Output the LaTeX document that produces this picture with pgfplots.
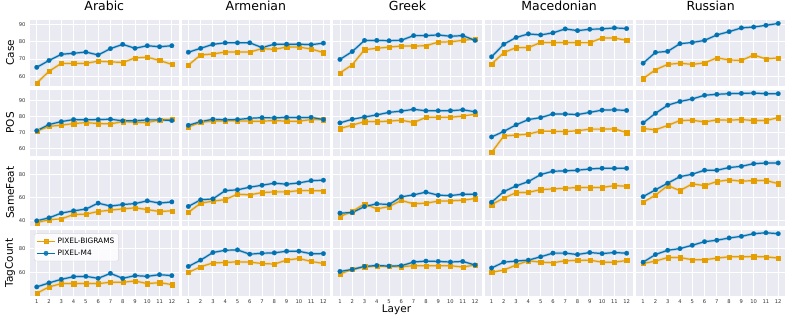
\documentclass[border=0pt]{standalone}
\usepackage{fontspec}
\setmainfont{DejaVu Sans}
\usepackage{pgfplots}
\usepackage{pgfplotstable}
\pgfplotsset{compat=1.18}
\usepgfplotslibrary{groupplots}
\definecolor{bgc}{HTML}{EAEAF2}
\definecolor{cO}{HTML}{E69F00}
\definecolor{cB}{HTML}{0072B2}

\pgfplotstableread{
L  ArB  ArM  HyB  HyM  GrB  GrM  MkB  MkM  RuB  RuM
1  56.0 65.2 66.5 74.0 61.9 69.8 67.1 71.3 58.6 67.6
2  62.9 69.2 72.4 76.3 66.7 74.4 73.8 78.7 63.8 73.9
3  67.5 72.8 73.0 78.6 75.5 80.9 76.7 82.6 66.9 74.5
4  67.5 73.4 74.1 79.5 76.3 80.9 76.7 84.7 67.6 79.0
5  67.5 74.1 74.1 79.5 77.0 80.7 79.7 84.1 66.9 79.7
6  68.8 72.4 74.1 79.5 77.6 81.0 79.6 85.3 67.8 80.9
7  68.4 76.1 76.1 76.7 77.6 83.7 79.7 87.6 70.7 84.1
8  68.0 78.6 75.7 78.7 77.8 83.7 79.6 86.6 69.5 86.0
9  70.7 76.3 77.0 78.7 79.9 84.1 79.6 87.4 69.2 88.2
10 71.1 77.8 77.0 78.7 80.1 83.3 82.3 87.6 72.4 88.7
11 69.2 77.2 75.9 78.4 80.9 83.7 82.3 88.2 70.1 89.7
12 66.9 77.8 73.8 79.3 81.8 80.9 80.9 87.8 70.7 90.8
}\casetab

\pgfplotstableread{
L  ArB  ArM  HyB  HyM  GrB  GrM  MkB  MkM  RuB  RuM
1  70.9 71.1 73.5 74.5 72.5 76.0 57.5 67.2 72.5 76.0
2  73.8 75.0 76.4 76.8 74.6 78.3 67.8 70.7 71.7 82.0
3  74.6 76.8 77.1 78.3 76.8 79.7 68.4 74.8 74.4 87.1
4  75.6 78.1 77.3 77.9 76.8 81.0 69.0 78.1 77.5 89.4
5  76.2 77.9 77.3 78.1 77.1 82.6 70.9 79.3 77.7 91.0
6  75.6 78.1 77.1 78.9 77.7 83.4 70.7 81.6 76.6 93.3
7  75.4 78.3 77.1 79.3 76.2 84.5 70.5 81.6 77.9 93.9
8  76.8 77.3 77.5 79.1 79.5 83.6 71.1 81.2 77.7 94.3
9  76.4 77.3 77.1 79.5 79.5 83.6 72.1 82.6 78.1 94.5
10 76.2 77.9 77.1 79.3 79.5 83.6 72.1 84.0 77.5 94.7
11 77.9 77.9 78.1 79.5 80.3 84.2 72.3 84.2 77.5 94.3
12 78.3 77.5 78.1 78.1 81.4 83.0 69.9 83.8 79.3 94.3
}\postab

\pgfplotstableread{
L  ArB  ArM  HyB  HyM  GrB  GrM  MkB  MkM  RuB  RuM
1  38.5 40.0 47.3 52.5 43.7 46.7 54.2 56.2 56.2 61.1
2  40.9 42.6 55.4 58.3 48.1 47.2 59.7 65.5 62.3 67.0
3  41.7 46.7 57.1 59.1 54.8 52.4 64.6 70.4 70.7 72.8
4  45.5 48.7 58.5 66.3 50.4 54.8 64.8 74.2 66.3 78.5
5  45.8 50.2 63.2 67.0 52.4 54.2 67.2 80.3 72.2 80.6
6  48.1 55.4 62.6 69.3 57.7 60.9 67.8 83.2 70.7 84.1
7  49.3 52.8 64.6 71.0 54.8 62.6 68.4 83.5 74.2 84.1
8  50.4 54.2 65.2 72.8 55.4 65.0 69.0 84.1 75.7 86.4
9  51.3 55.0 65.2 71.9 57.1 62.3 69.0 85.2 74.5 87.5
10 49.8 57.4 66.3 73.0 57.4 62.0 69.0 85.8 75.1 89.8
11 48.1 55.4 66.3 75.0 58.0 63.2 70.7 85.8 75.1 90.4
12 48.7 56.5 66.1 75.4 59.4 63.2 70.1 85.8 72.4 90.4
}\sftab

\pgfplotstableread{
L  ArB  ArM  HyB  HyM  GrB  GrM  MkB  MkM  RuB  RuM
1  42.5 47.8 60.0 65.0 58.7 60.8 60.0 63.7 67.5 68.6
2  47.8 51.2 64.7 70.3 62.5 62.5 62.0 68.6 69.5 75.0
3  50.6 54.2 68.0 76.7 64.8 65.0 66.2 69.5 72.5 78.6
4  50.6 56.4 68.3 78.6 65.3 65.8 69.8 70.3 72.5 80.0
5  50.6 56.7 68.9 78.9 65.0 65.3 68.6 73.1 70.6 82.8
6  50.6 55.0 68.6 75.3 64.8 65.6 68.1 76.2 70.6 85.8
7  51.7 59.2 67.5 76.1 65.6 68.7 69.8 76.2 72.0 87.0
8  51.7 55.0 67.0 76.4 65.6 69.5 70.0 75.0 73.1 88.9
9  52.8 57.3 70.3 77.8 65.6 69.2 70.3 76.7 73.1 90.3
10 50.6 56.7 71.7 77.8 65.6 68.7 68.6 75.8 73.3 92.5
11 51.4 58.1 69.2 75.6 64.5 69.2 68.6 76.7 73.1 93.3
12 49.8 57.3 67.5 75.8 66.2 66.2 70.0 76.1 72.0 92.5
}\tctab

\pgfplotsset{
  oS/.style={draw=cO, line width=1.2pt, mark=square*, mark size=2.1pt,
    mark options={fill=cO, draw=cO, line width=0.2pt}},
  bS/.style={draw=cB, line width=1.2pt, mark=*, mark size=2.3pt,
    mark options={fill=cB, draw=cB, line width=0.2pt}},
  halo/.style={forget plot, mark=none, line width=2.8pt, opacity=0.22},
  caserow/.style={ymin=54.6, ymax=92.8, ytick={60,70,80,90}},
  posrow/.style={ymin=55.6, ymax=96.6, ytick={60,70,80,90}},
  sfrow/.style={ymin=35.9, ymax=93.0, ytick={40,60,80}},
  tcrow/.style={ymin=40.6, ymax=95.6, ytick={60,80}},
}

\newcommand{\pair}[2]{%
  \addplot[halo, draw=cO] table[x=L, y=#2B]{#1};
  \addplot[halo, draw=cB] table[x=L, y=#2M]{#1};
  \addplot[oS] table[x=L, y=#2B]{#1};
  \addplot[bS] table[x=L, y=#2M]{#1};
}

\begin{document}
\begin{tikzpicture}
\begin{groupplot}[
  group style={group name=G, group size=5 by 4,
    horizontal sep=3pt, vertical sep=4.5pt,
    xticklabels at=edge bottom, yticklabels at=edge left},
  scale only axis, width=148.6pt, height=65.5pt,
  xmin=0.45, xmax=12.55, xtick={1,...,12},
  axis background/.style={fill=bgc},
  axis line style={draw=none},
  major tick length=0pt,
  grid=major, major grid style={white, line width=0.9pt},
  tick label style={font=\fontsize{5.2}{6}\selectfont, text=black!80},
  /pgf/number format/assume math mode=true,
  xticklabel style={yshift=-0.8pt},
  yticklabel style={xshift=-1pt},
  title style={font=\fontsize{12.5}{14}\selectfont, at={(axis description cs:0.5,1.053)}, anchor=base},
  ylabel style={font=\fontsize{10.5}{12}\selectfont, at={(axis description cs:-0.1346,0.5)}, anchor=center},
  legend cell align=left,
]
% Row 1: Case
\nextgroupplot[caserow, title={Arabic}, ylabel={Case}]
\coordinate (tl) at (rel axis cs:0,1);
\pair{\casetab}{Ar}
\nextgroupplot[caserow, title={Armenian}]
\pair{\casetab}{Hy}
\nextgroupplot[caserow, title={Greek}]
\pair{\casetab}{Gr}
\nextgroupplot[caserow, title={Macedonian}]
\pair{\casetab}{Mk}
\nextgroupplot[caserow, title={Russian}]
\pair{\casetab}{Ru}
% Row 2: POS
\nextgroupplot[posrow, ylabel={POS}]
\pair{\postab}{Ar}
\nextgroupplot[posrow]
\pair{\postab}{Hy}
\nextgroupplot[posrow]
\pair{\postab}{Gr}
\nextgroupplot[posrow]
\pair{\postab}{Mk}
\nextgroupplot[posrow]
\pair{\postab}{Ru}
% Row 3: SameFeat
\nextgroupplot[sfrow, ylabel={SameFeat}]
\pair{\sftab}{Ar}
\nextgroupplot[sfrow]
\pair{\sftab}{Hy}
\nextgroupplot[sfrow]
\pair{\sftab}{Gr}
\nextgroupplot[sfrow]
\pair{\sftab}{Mk}
\nextgroupplot[sfrow]
\pair{\sftab}{Ru}
% Row 4: TagCount
\nextgroupplot[tcrow, ylabel={TagCount},
  legend style={at={(0.027,0.947)}, anchor=north west,
    font=\fontsize{7.4}{9}\selectfont, draw=black!15, fill=white,
    fill opacity=0.85, text opacity=1, draw opacity=1,
    rounded corners=2pt, inner sep=2.2pt, row sep=1pt},
  legend image code/.code={\draw[mark repeat=2, mark phase=2] plot coordinates {(0pt,0pt) (9pt,0pt) (18pt,0pt)};}]
\pair{\tctab}{Ar}
\legend{PIXEL-BIGRAMS, PIXEL-M4}
\nextgroupplot[tcrow]
\pair{\tctab}{Hy}
\nextgroupplot[tcrow]
\pair{\tctab}{Gr}
\nextgroupplot[tcrow]
\pair{\tctab}{Mk}
\nextgroupplot[tcrow]
\pair{\tctab}{Ru}
\end{groupplot}
\node[font=\fontsize{10.5}{12}\selectfont] at ([shift={(366.5pt,-289.5pt)}]tl) {Layer};
\pgfresetboundingbox
\path ([shift={(-30pt,20pt)}]tl) rectangle ([shift={(763pt,-299pt)}]tl);
\end{tikzpicture}
\end{document}
